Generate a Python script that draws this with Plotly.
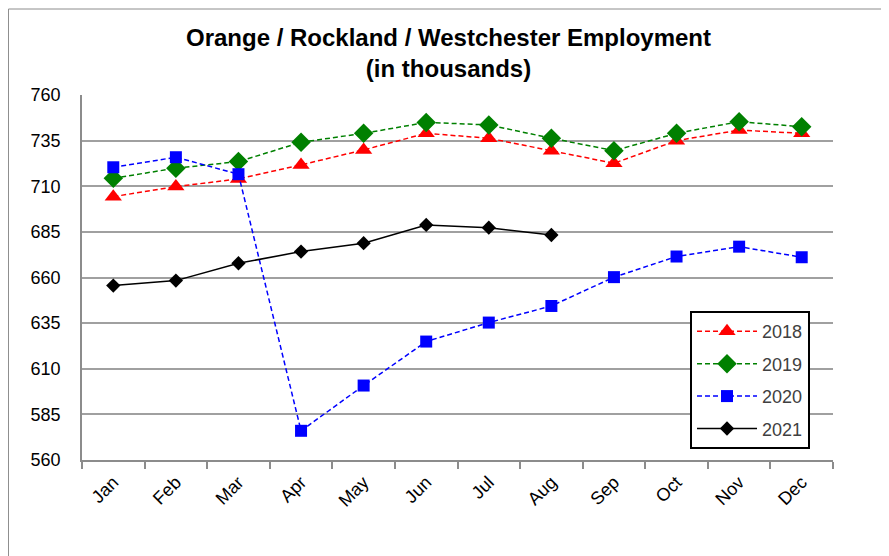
import plotly.graph_objects as go

# monthly employment, thousands
months = ["Jan", "Feb", "Mar", "Apr", "May", "Jun",
          "Jul", "Aug", "Sep", "Oct", "Nov", "Dec"]
emp_2018 = [704.3, 709.8, 714.0, 721.7, 729.9, 739.0, 736.3, 729.5, 722.6, 735.0, 740.8, 739.0]
emp_2019 = [714.4, 719.9, 723.5, 734.1, 739.0, 745.0, 743.6, 736.3, 729.5, 739.0, 745.4, 742.6]
emp_2020 = [720.4, 725.9, 716.6, 576.0, 600.8, 624.9, 635.3, 644.4, 660.2, 671.5, 676.9, 671.1]
emp_2021 = [655.6, 658.3, 667.8, 674.2, 678.8, 688.8, 687.3, 683.3]

y_ticks = [560, 585, 610, 635, 660, 685, 710, 735, 760]

dash = "5px,3px"

fig = go.Figure()
fig.add_trace(go.Scatter(x=months, y=emp_2018, name="2018", legendgroup="a",
                         mode="lines+markers",
                         line=dict(color="#ff0000", width=1.5, dash=dash),
                         marker=dict(symbol="triangle-up", size=15, color="#ff0000")))
fig.add_trace(go.Scatter(x=months, y=emp_2019, name="2019", legendgroup="b",
                         mode="lines+markers",
                         line=dict(color="#008000", width=1.5, dash=dash),
                         marker=dict(symbol="diamond", size=15, color="#008000")))
fig.add_trace(go.Scatter(x=months, y=emp_2020, name="2020", legendgroup="c",
                         mode="lines+markers",
                         line=dict(color="#0000ff", width=1.5, dash=dash),
                         marker=dict(symbol="square", size=12, color="#0000ff")))
fig.add_trace(go.Scatter(x=months[:len(emp_2021)], y=emp_2021, name="2021", legendgroup="d",
                         mode="lines+markers",
                         line=dict(color="#000000", width=1.5),
                         marker=dict(symbol="diamond", size=11, color="#000000")))

# page has an 8px body margin, so the figure is shrunk to fit the window
fig.update_layout(
    width=881, height=548,
    margin=dict(l=74, r=56, t=87, b=96, autoexpand=False),
    paper_bgcolor="white", plot_bgcolor="white",
    font=dict(family="Liberation Sans, Arial, sans-serif", size=18, color="black"),
    title=dict(text="<b>Orange / Rockland / Westchester Employment<br>(in thousands)</b>",
               x=0.5, xanchor="center", y=0.931, yanchor="top",
               font=dict(size=24, color="black")),
    showlegend=True,
    legend=dict(x=0.8096, y=0.408, xanchor="left", yanchor="top",
                bordercolor="black", borderwidth=2, bgcolor="white",
                font=dict(size=18, color="#404040"),
                itemwidth=60,
                traceorder="grouped", tracegroupgap=6),
)
fig.update_xaxes(type="category", range=[-0.5, 11.5], showline=True,
                 linecolor="#8c8c8c", linewidth=1.5,
                 ticks="outside", tickson="boundaries", ticklen=7, tickcolor="#8c8c8c",
                 tickwidth=1.5, tickangle=-45, ticklabelstandoff=3,
                 showgrid=False, automargin=False)
fig.update_yaxes(range=[560, 760], tickvals=y_ticks, showline=True, linecolor="#8c8c8c",
                 linewidth=1.5, showgrid=True, gridcolor="#a0a0a0", gridwidth=1.5,
                 zeroline=False, ticks="", ticklabelstandoff=16, automargin=False)

# outer chart border
fig.add_shape(type="rect", xref="paper", yref="paper",
              x0=-0.0979, x1=1.0706, y0=-0.28, y1=1.2356,
              line=dict(color="#8c8c8c", width=1), layer="below")

fig.write_html("out.html")
